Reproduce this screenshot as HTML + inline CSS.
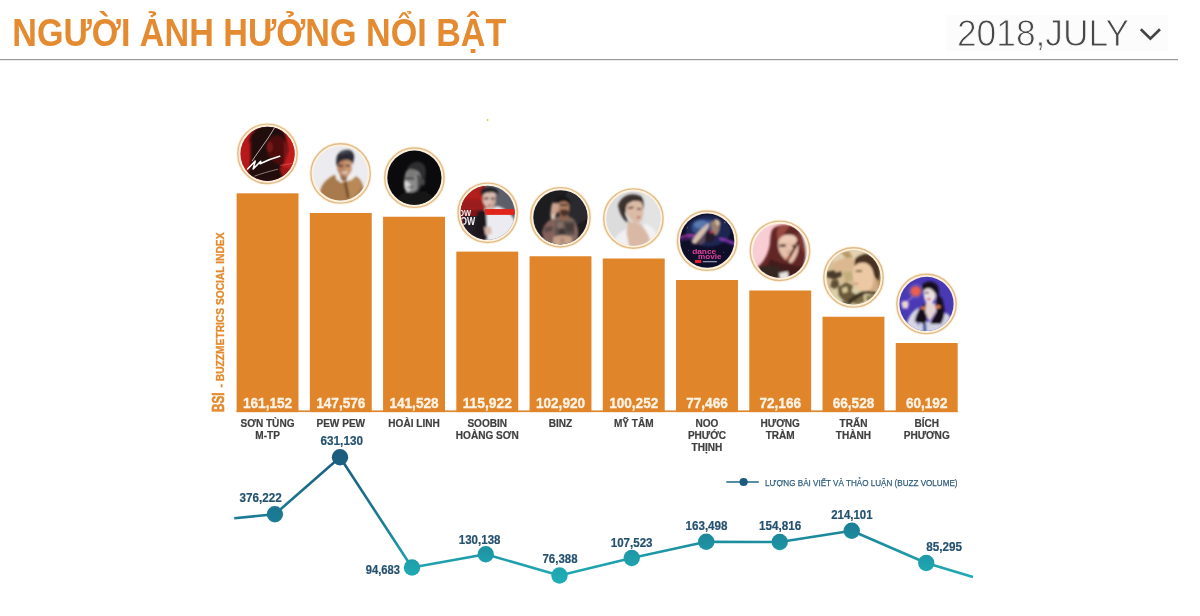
<!DOCTYPE html>
<html lang="vi">
<head>
<meta charset="utf-8">
<title>Người ảnh hưởng nổi bật</title>
<style>
html,body{margin:0;padding:0;background:#fff;}
body{width:1200px;height:616px;overflow:hidden;position:relative;font-family:"Liberation Sans",sans-serif;}
svg{position:absolute;left:0;top:0;display:block;}
text{font-family:"Liberation Sans",sans-serif;}
.b{font-weight:bold;}
</style>
</head>
<body>
<svg width="1200" height="616" viewBox="0 0 1200 616">
<defs>
<linearGradient id="lg" gradientUnits="userSpaceOnUse" x1="0" y1="450" x2="0" y2="585">
<stop offset="0" stop-color="#1b5a7d"/><stop offset="0.55" stop-color="#1c7e96"/><stop offset="0.85" stop-color="#1fa2ad"/><stop offset="1" stop-color="#20b0b7"/>
</linearGradient>
<filter id="bl" x="-10%" y="-10%" width="120%" height="120%"><feGaussianBlur stdDeviation="8"/></filter>
<filter id="bl2" x="-10%" y="-10%" width="120%" height="120%"><feGaussianBlur stdDeviation="7.8"/></filter>
<clipPath id="cp"><circle cx="0" cy="0" r="27.1"/></clipPath>
</defs>

<g id="header">
<rect x="946" y="15" width="222" height="36" fill="#fcfcfc"/>
<text class="b" x="12.3" y="46.3" font-size="37.9" fill="#e48a30" textLength="494" lengthAdjust="spacingAndGlyphs">NGƯỜI ẢNH HƯỞNG NỔI BẬT</text>
<text x="956.9" y="46.4" font-size="36.4" fill="#484848" stroke="#fcfcfc" stroke-width="0.9" textLength="172.3" lengthAdjust="spacingAndGlyphs">2018,JULY</text>
<path d="M1140.8 29.3 L1150.4 38.6 L1160 29.3" fill="none" stroke="#444" stroke-width="2.7"/>
<rect x="0" y="59" width="1178" height="1.2" fill="#9a9a9a"/>
<circle cx="487.6" cy="120" r="0.9" fill="#c6cf3a"/>
</g>
<g id="bars">
<rect x="236.6" y="410.4" width="721" height="1.7" fill="#e08529"/>
<rect x="236.60" y="193.3" width="61.9" height="218.80" fill="#e08529"/>
<rect x="309.84" y="213" width="61.9" height="199.10" fill="#e08529"/>
<rect x="383.08" y="216.75" width="61.9" height="195.35" fill="#e08529"/>
<rect x="456.32" y="251.6" width="61.9" height="160.50" fill="#e08529"/>
<rect x="529.56" y="256.25" width="61.9" height="155.85" fill="#e08529"/>
<rect x="602.80" y="258.5" width="61.9" height="153.60" fill="#e08529"/>
<rect x="676.04" y="280" width="61.9" height="132.10" fill="#e08529"/>
<rect x="749.28" y="290.5" width="61.9" height="121.60" fill="#e08529"/>
<rect x="822.52" y="316.75" width="61.9" height="95.35" fill="#e08529"/>
<rect x="895.76" y="343" width="61.9" height="69.10" fill="#e08529"/>
<text class="b" x="242.94" y="408.2" font-size="15.3" fill="#fdf3e6" stroke="#fdf3e6" stroke-width="0.35" textLength="49.21" lengthAdjust="spacingAndGlyphs">161,152</text>
<text class="b" x="316.18" y="408.2" font-size="15.3" fill="#fdf3e6" stroke="#fdf3e6" stroke-width="0.35" textLength="49.21" lengthAdjust="spacingAndGlyphs">147,576</text>
<text class="b" x="389.42" y="408.2" font-size="15.3" fill="#fdf3e6" stroke="#fdf3e6" stroke-width="0.35" textLength="49.21" lengthAdjust="spacingAndGlyphs">141,528</text>
<text class="b" x="462.66" y="408.2" font-size="15.3" fill="#fdf3e6" stroke="#fdf3e6" stroke-width="0.35" textLength="49.21" lengthAdjust="spacingAndGlyphs">115,922</text>
<text class="b" x="535.90" y="408.2" font-size="15.3" fill="#fdf3e6" stroke="#fdf3e6" stroke-width="0.35" textLength="49.21" lengthAdjust="spacingAndGlyphs">102,920</text>
<text class="b" x="609.14" y="408.2" font-size="15.3" fill="#fdf3e6" stroke="#fdf3e6" stroke-width="0.35" textLength="49.21" lengthAdjust="spacingAndGlyphs">100,252</text>
<text class="b" x="686.17" y="408.2" font-size="15.3" fill="#fdf3e6" stroke="#fdf3e6" stroke-width="0.35" textLength="41.64" lengthAdjust="spacingAndGlyphs">77,466</text>
<text class="b" x="759.41" y="408.2" font-size="15.3" fill="#fdf3e6" stroke="#fdf3e6" stroke-width="0.35" textLength="41.64" lengthAdjust="spacingAndGlyphs">72,166</text>
<text class="b" x="832.65" y="408.2" font-size="15.3" fill="#fdf3e6" stroke="#fdf3e6" stroke-width="0.35" textLength="41.64" lengthAdjust="spacingAndGlyphs">66,528</text>
<text class="b" x="905.89" y="408.2" font-size="15.3" fill="#fdf3e6" stroke="#fdf3e6" stroke-width="0.35" textLength="41.64" lengthAdjust="spacingAndGlyphs">60,192</text>
<text class="b" x="240.60" y="426.50" font-size="10.6" fill="#3f3f3f" stroke="#3f3f3f" stroke-width="0.2" textLength="53.90" lengthAdjust="spacingAndGlyphs">SƠN TÙNG</text>
<text class="b" x="255.25" y="438.50" font-size="10.6" fill="#3f3f3f" stroke="#3f3f3f" stroke-width="0.2" textLength="24.61" lengthAdjust="spacingAndGlyphs">M-TP</text>
<text class="b" x="316.45" y="426.50" font-size="10.6" fill="#3f3f3f" stroke="#3f3f3f" stroke-width="0.2" textLength="48.68" lengthAdjust="spacingAndGlyphs">PEW PEW</text>
<text class="b" x="388.30" y="426.50" font-size="10.6" fill="#3f3f3f" stroke="#3f3f3f" stroke-width="0.2" textLength="51.47" lengthAdjust="spacingAndGlyphs">HOÀI LINH</text>
<text class="b" x="467.41" y="426.50" font-size="10.6" fill="#3f3f3f" stroke="#3f3f3f" stroke-width="0.2" textLength="39.72" lengthAdjust="spacingAndGlyphs">SOOBIN</text>
<text class="b" x="455.84" y="438.50" font-size="10.6" fill="#3f3f3f" stroke="#3f3f3f" stroke-width="0.2" textLength="62.86" lengthAdjust="spacingAndGlyphs">HOÀNG SƠN</text>
<text class="b" x="548.76" y="426.50" font-size="10.6" fill="#3f3f3f" stroke="#3f3f3f" stroke-width="0.2" textLength="23.49" lengthAdjust="spacingAndGlyphs">BINZ</text>
<text class="b" x="613.89" y="426.50" font-size="10.6" fill="#3f3f3f" stroke="#3f3f3f" stroke-width="0.2" textLength="39.71" lengthAdjust="spacingAndGlyphs">MỸ TÂM</text>
<text class="b" x="695.52" y="426.50" font-size="10.6" fill="#3f3f3f" stroke="#3f3f3f" stroke-width="0.2" textLength="22.94" lengthAdjust="spacingAndGlyphs">NOO</text>
<text class="b" x="687.89" y="438.50" font-size="10.6" fill="#3f3f3f" stroke="#3f3f3f" stroke-width="0.2" textLength="38.20" lengthAdjust="spacingAndGlyphs">PHƯỚC</text>
<text class="b" x="691.61" y="450.50" font-size="10.6" fill="#3f3f3f" stroke="#3f3f3f" stroke-width="0.2" textLength="30.77" lengthAdjust="spacingAndGlyphs">THỊNH</text>
<text class="b" x="760.57" y="426.50" font-size="10.6" fill="#3f3f3f" stroke="#3f3f3f" stroke-width="0.2" textLength="39.32" lengthAdjust="spacingAndGlyphs">HƯƠNG</text>
<text class="b" x="765.69" y="438.50" font-size="10.6" fill="#3f3f3f" stroke="#3f3f3f" stroke-width="0.2" textLength="29.08" lengthAdjust="spacingAndGlyphs">TRÀM</text>
<text class="b" x="839.49" y="426.50" font-size="10.6" fill="#3f3f3f" stroke="#3f3f3f" stroke-width="0.2" textLength="27.97" lengthAdjust="spacingAndGlyphs">TRẤN</text>
<text class="b" x="835.85" y="438.50" font-size="10.6" fill="#3f3f3f" stroke="#3f3f3f" stroke-width="0.2" textLength="35.24" lengthAdjust="spacingAndGlyphs">THÀNH</text>
<text class="b" x="914.40" y="426.50" font-size="10.6" fill="#3f3f3f" stroke="#3f3f3f" stroke-width="0.2" textLength="24.61" lengthAdjust="spacingAndGlyphs">BÍCH</text>
<text class="b" x="903.69" y="438.50" font-size="10.6" fill="#3f3f3f" stroke="#3f3f3f" stroke-width="0.2" textLength="46.04" lengthAdjust="spacingAndGlyphs">PHƯƠNG</text>
</g>
<g transform="translate(224.2,412) rotate(-90)" stroke="#e58a2d" stroke-width="0.3">
<text class="b" x="0" y="0" font-size="15.9" fill="#e58a2d" stroke-width="0.6" textLength="19.5" lengthAdjust="spacingAndGlyphs">BSI</text>
<text class="b" x="24.5" y="0" font-size="10.8" fill="#e58a2d" textLength="155" lengthAdjust="spacingAndGlyphs">- BUZZMETRICS SOCIAL INDEX</text>
</g>
<g id="buzz-line">
<path d="M234.25 518.25 L274.9 514.2 L340 457.3 L412 567.5 L485.75 554.25 L559.5 575.5 L631.75 558 L706.25 541.75 L779.75 542 L851.75 530.75 L926.25 563 L973 577" fill="none" stroke="url(#lg)" stroke-width="2.6" stroke-linejoin="round"/>
<circle cx="274.9" cy="514.2" r="8.2" fill="url(#lg)"/>
<circle cx="340" cy="457.3" r="8.2" fill="url(#lg)"/>
<circle cx="412" cy="567.5" r="8.2" fill="url(#lg)"/>
<circle cx="485.75" cy="554.25" r="8.2" fill="url(#lg)"/>
<circle cx="559.5" cy="575.5" r="8.2" fill="url(#lg)"/>
<circle cx="631.75" cy="558" r="8.2" fill="url(#lg)"/>
<circle cx="706.25" cy="541.75" r="8.2" fill="url(#lg)"/>
<circle cx="779.75" cy="542" r="8.2" fill="url(#lg)"/>
<circle cx="851.75" cy="530.75" r="8.2" fill="url(#lg)"/>
<circle cx="926.25" cy="563" r="8.2" fill="url(#lg)"/>
<text class="b" x="239.5" y="502.1" font-size="13.3" fill="#24516f" stroke="#24516f" stroke-width="0.2" textLength="42.25" lengthAdjust="spacingAndGlyphs">376,222</text>
<text class="b" x="320.5" y="445" font-size="13.3" fill="#24516f" stroke="#24516f" stroke-width="0.2" textLength="42.50" lengthAdjust="spacingAndGlyphs">631,130</text>
<text class="b" x="365.75" y="574.25" font-size="13.3" fill="#24516f" stroke="#24516f" stroke-width="0.2" textLength="34.25" lengthAdjust="spacingAndGlyphs">94,683</text>
<text class="b" x="458.75" y="543.75" font-size="13.3" fill="#24516f" stroke="#24516f" stroke-width="0.2" textLength="41.75" lengthAdjust="spacingAndGlyphs">130,138</text>
<text class="b" x="542.5" y="563.25" font-size="13.3" fill="#24516f" stroke="#24516f" stroke-width="0.2" textLength="35.00" lengthAdjust="spacingAndGlyphs">76,388</text>
<text class="b" x="610.75" y="546.75" font-size="13.3" fill="#24516f" stroke="#24516f" stroke-width="0.2" textLength="41.75" lengthAdjust="spacingAndGlyphs">107,523</text>
<text class="b" x="685.5" y="530" font-size="13.3" fill="#24516f" stroke="#24516f" stroke-width="0.2" textLength="42.00" lengthAdjust="spacingAndGlyphs">163,498</text>
<text class="b" x="759" y="530" font-size="13.3" fill="#24516f" stroke="#24516f" stroke-width="0.2" textLength="42.25" lengthAdjust="spacingAndGlyphs">154,816</text>
<text class="b" x="831.25" y="519.25" font-size="13.3" fill="#24516f" stroke="#24516f" stroke-width="0.2" textLength="41.25" lengthAdjust="spacingAndGlyphs">214,101</text>
<text class="b" x="926.25" y="551.25" font-size="13.3" fill="#24516f" stroke="#24516f" stroke-width="0.2" textLength="35.75" lengthAdjust="spacingAndGlyphs">85,295</text>
</g>
<g id="legend">
<path d="M726.3 482 H758.8" stroke="#1f6684" stroke-width="1.6" fill="none"/>
<circle cx="743.6" cy="482" r="4.1" fill="#1b5b7e"/>
<text x="765" y="485.8" font-size="9.8" fill="#2f5d7d" stroke="#2f5d7d" stroke-width="0.25" textLength="192.5" lengthAdjust="spacingAndGlyphs">LƯỢNG BÀI VIẾT VÀ THẢO LUẬN (BUZZ VOLUME)</text>
</g>
<g id="avatars">
<g transform="translate(267.5,153.8)">
<circle r="30.8" fill="none" stroke="#fdf3e3" stroke-width="1.2"/><circle r="29.7" fill="#fdf1e0" stroke="#e2bb85" stroke-width="1.4"/>
<g clip-path="url(#cp)"><g transform="scale(0.103896) translate(-303.2,-306.1)"><rect x="0" y="0" width="620" height="620" fill="#b7191b"/>
<g filter="url(#bl)">
<rect x="430" y="60" width="200" height="420" fill="#c41d1c"/>
<path d="M128,215 C125,35 330,-15 412,42 C462,75 486,130 492,190 C495,230 510,260 505,285 C495,310 485,330 480,345 C478,370 465,395 455,405 C440,420 432,440 440,460 C470,500 520,540 540,600 L60,600 C110,520 150,440 140,300 C138,240 140,200 150,170 Z" fill="#22080a"/>
<path d="M330,150 C380,120 450,130 480,180 C495,230 505,270 500,290 C490,330 470,390 440,410 C400,420 350,380 320,330 C290,280 300,190 330,150Z" fill="#4e0f11"/>
<ellipse cx="325" cy="240" rx="28" ry="50" fill="#7c1818"/>
<path d="M455,170 C485,200 505,260 500,290 C490,330 475,370 455,400 C465,330 470,250 455,170Z" fill="#7a1616"/>
<path d="M420,440 C460,430 500,440 540,470 L560,600 L470,600Z" fill="#9c1718"/>
</g>
<g fill="none" stroke="#fff" stroke-linecap="round" stroke-linejoin="round">
<path d="M370,55 C340,110 300,170 260,225 C230,270 190,320 158,372" stroke-width="7" stroke="#f0eaea"/>
<path d="M112,452 L185,375 L165,452 L238,378 L232,402 C290,372 350,350 420,330" stroke-width="15"/>
<path d="M180,520 C240,498 320,475 400,455" stroke-width="6" stroke="#c8bcbc"/>
<path d="M425,418 L540,400" stroke-width="4" stroke="#e59090"/>
</g></g></g>
</g>
<g transform="translate(340.58,173.43)">
<circle r="30.8" fill="none" stroke="#fdf3e3" stroke-width="1.2"/><circle r="29.7" fill="#fdf1e0" stroke="#e2bb85" stroke-width="1.4"/>
<g clip-path="url(#cp)"><g transform="scale(0.103896) translate(-304,-302.5)"><rect x="0" y="0" width="620" height="620" fill="#ebebf0"/>
<g filter="url(#bl)">
<path d="M100,500 C120,400 160,360 250,312 L300,392 L400,372 L450,330 C500,360 520,400 528,470 L540,620 L90,620 Z" fill="#a97a4c"/>
<path d="M350,392 L440,345 C480,360 505,400 500,430 L430,540 L385,560 Z" fill="#b98a58"/>
<path d="M335,385 L362,380 L392,540 L368,545Z" fill="#6e4a2c"/>
<path d="M252,302 L290,314 L308,380 L264,360Z" fill="#f2eee8"/>
<path d="M372,336 L420,292 L440,332 L402,370Z" fill="#f2eee8"/>
<path d="M292,300 L376,318 L354,380 L310,368Z" fill="#93664a"/>
<path d="M266,185 C300,165 380,160 406,180 L410,268 C400,302 380,326 348,340 C312,336 288,306 274,270 Z" fill="#b98462"/>
<path d="M340,190 L406,182 L409,266 C398,298 378,322 350,336Z" fill="#cb9874"/>
<path d="M286,222 L326,218 L327,236 L288,240Z" fill="#4a3028"/>
<path d="M352,218 L390,220 L390,238 L353,236Z" fill="#4a3028"/>
<path d="M312,286 L372,284 L366,302 L320,304Z" fill="#e8d8d0"/>
<path d="M266,150 C273,103 330,68 387,76 C428,86 441,130 432,166 L420,218 C412,192 397,172 370,170 C335,168 305,178 289,202 L272,244 C260,212 260,176 266,150Z" fill="#2a2c36"/>
<path d="M300,95 C340,75 390,82 415,110 C380,100 340,105 300,125Z" fill="#454852"/>
</g></g></g>
</g>
<g transform="translate(414.4,177.7)">
<circle r="30.8" fill="none" stroke="#fdf3e3" stroke-width="1.2"/><circle r="29.7" fill="#fdf1e0" stroke="#e2bb85" stroke-width="1.4"/>
<g clip-path="url(#cp)"><g transform="scale(0.103896) translate(-302,-305)"><rect x="0" y="0" width="620" height="620" fill="#0b0b0d"/>
<g filter="url(#bl)">
<path d="M120,520 C170,440 260,430 330,440 C400,420 450,450 500,520 L520,620 L100,620Z" fill="#141416"/>
<path d="M235,215 C260,160 320,140 370,160 C410,180 420,240 405,300 C400,340 395,370 380,380 L330,300 L260,250Z" fill="#2e2e2f"/>
<path d="M230,235 C260,215 320,225 350,260 C372,300 372,360 350,410 C325,445 270,455 230,440 C205,420 200,380 205,330 C208,290 215,255 230,235Z" fill="#8b8b8b"/>
<path d="M205,340 C215,330 250,340 262,370 C272,410 262,440 232,440 C208,425 202,385 205,340Z" fill="#d4d4d4"/>
<path d="M232,238 C258,222 300,228 322,250 L300,300 L225,290Z" fill="#7a7a7a"/>
<path d="M320,270 C350,270 372,310 368,360 C362,400 345,425 325,430 C335,380 335,320 320,270Z" fill="#4e4e4e"/>
<ellipse cx="385" cy="350" rx="16" ry="32" fill="#4a4a4a"/>
<path d="M215,300 L300,305 L300,325 L215,320Z" fill="#3c3c3c"/>
<path d="M232,395 L290,385 L290,400 L235,408Z" fill="#555"/>
</g></g></g>
</g>
<g transform="translate(487.7,212.8)">
<circle r="30.8" fill="none" stroke="#fdf3e3" stroke-width="1.2"/><circle r="29.7" fill="#fdf1e0" stroke="#e2bb85" stroke-width="1.4"/>
<g clip-path="url(#cp)"><g transform="scale(0.103896) translate(-305,-306)"><rect x="0" y="0" width="620" height="620" fill="#5c5e6a"/>
<rect x="0" y="0" width="282" height="272" fill="#b3201b"/>
<rect x="0" y="272" width="282" height="66" fill="#7c1519"/>
<rect x="0" y="338" width="282" height="300" fill="#251c26"/>
<rect x="0" y="338" width="70" height="130" fill="#8a1a1c"/>
<g filter="url(#bl)">
<rect x="0" y="180" width="282" height="100" fill="#9a1c1a"/>
<path d="M275,262 L330,268 L400,240 C470,262 530,310 565,380 L580,620 L282,620 Z" fill="#ebebf1"/>
<path d="M215,285 L290,282 L302,575 L175,505Z" fill="#1b171e"/>
<path d="M298,225 L362,225 L368,285 L300,285Z" fill="#d2b0a4"/>
<path d="M250,120 C260,95 370,90 385,120 L382,200 C372,240 350,262 325,265 C295,262 268,235 258,195Z" fill="#dcbcb0"/>
<path d="M238,95 C250,50 390,45 402,95 L398,150 C390,125 370,108 345,108 L290,112 C270,118 255,135 250,160Z" fill="#242427"/>
<path d="M270,445 L335,440 L345,505 L285,525Z" fill="#d8b8aa"/>
<path d="M268,160 L312,156 L313,176 L270,180Z" fill="#4a3a3a"/>
<path d="M335,158 L378,160 L377,180 L336,178Z" fill="#4a3a3a"/>
<ellipse cx="322" cy="236" rx="20" ry="9" fill="#b0605a"/>
<path d="M345,180 L382,170 L382,215 C375,240 360,258 345,262Z" fill="#c8a496"/>
</g>
<g>
<rect x="278" y="270" width="300" height="56" fill="#e0241b"/>
<text x="22" y="333" font-size="82" font-weight="bold" fill="#f4f0f2" textLength="124" lengthAdjust="spacingAndGlyphs">OW</text>
<text x="40" y="420" font-size="97" font-weight="bold" fill="#f4f0f2" textLength="144" lengthAdjust="spacingAndGlyphs">OW</text>
</g></g></g>
</g>
<g transform="translate(560.4,217.3)">
<circle r="30.8" fill="none" stroke="#fdf3e3" stroke-width="1.2"/><circle r="29.7" fill="#fdf1e0" stroke="#e2bb85" stroke-width="1.4"/>
<g clip-path="url(#cp)"><g transform="scale(0.103896) translate(-302.5,-301.5)"><rect x="0" y="0" width="620" height="620" fill="#1d1d20"/>
<g filter="url(#bl)">
<ellipse cx="460" cy="190" rx="130" ry="170" fill="#2b2b2d"/>
<path d="M128,445 C148,360 190,322 290,292 L390,300 C440,320 464,360 474,450 L455,620 L160,620 Z" fill="#7f6a61"/>
<path d="M128,445 C143,372 180,335 228,318 L245,420 L218,525 L150,505Z" fill="#86615a"/>
<path d="M150,400 L225,385 L230,430 L150,450Z" fill="#5a4a48"/>
<path d="M250,332 L440,342 L452,470 L250,472Z" fill="#5b4f4c"/>
<path d="M262,350 L330,345 L335,400 L270,410Z" fill="#857068"/>
<path d="M350,360 L430,362 L435,430 L360,440Z" fill="#463c3b"/>
<path d="M285,420 L345,415 L350,465 L290,468Z" fill="#3e3534"/>
<path d="M440,360 C465,380 475,430 470,500 L440,520Z" fill="#8a6a60"/>
<path d="M235,492 C290,470 360,470 412,492 L422,620 L228,620Z" fill="#c7a08a"/>
<path d="M300,500 L340,498 L342,560 L302,560Z" fill="#b08a76"/>
<path d="M292,282 L380,282 L392,332 L290,332Z" fill="#8c6450"/>
<path d="M278,150 C290,122 375,122 387,150 L387,235 C377,274 356,290 333,290 C305,290 285,266 278,235Z" fill="#ab7b62"/>
<path d="M296,235 C320,222 352,222 382,235 C380,270 356,292 335,292 C314,290 298,270 296,235Z" fill="#4a3028"/>
<path d="M300,175 L372,175 L372,192 L300,192Z" fill="#3a2a26"/>
<path d="M266,152 C268,92 388,82 398,152 L392,188 C382,160 362,146 333,146 C304,146 284,160 274,188Z" fill="#131313"/>
<path d="M228,158 L292,170 L284,232 L254,294 L205,284 L214,200Z" fill="#caa28e"/>
<path d="M215,270 L255,280 L245,320 L208,312Z" fill="#e0c4b4"/>
</g></g></g>
</g>
<g transform="translate(633.4,218.6)">
<circle r="30.8" fill="none" stroke="#fdf3e3" stroke-width="1.2"/><circle r="29.7" fill="#fdf1e0" stroke="#e2bb85" stroke-width="1.4"/>
<g clip-path="url(#cp)"><g transform="scale(0.103896) translate(-302.5,-304)"><rect x="0" y="0" width="620" height="620" fill="#dcdcdc"/>
<g filter="url(#bl)">
<rect x="400" y="0" width="220" height="620" fill="#e3e3e3"/>
<path d="M110,520 C150,440 220,410 262,398 L300,560 L150,590Z" fill="#f1efef"/>
<path d="M395,352 C450,360 510,400 535,470 L520,560 L440,590Z" fill="#f3f1f1"/>
<path d="M252,330 L352,352 C400,380 440,440 462,505 L420,620 L270,620 L238,445Z" fill="#d9b9a5"/>
<path d="M155,175 C180,85 290,35 385,95 C410,130 408,180 400,215 L372,152 L300,132 L242,172 L222,262 L255,345 C215,330 170,270 155,175Z" fill="#3b302d"/>
<path d="M240,172 C262,140 340,120 382,150 C402,190 405,240 388,298 C372,330 352,345 338,347 C305,342 268,310 240,262 C228,232 228,200 240,172Z" fill="#dcbba6"/>
<path d="M250,195 L300,185 L305,205 L255,215Z" fill="#6a4a40"/>
<path d="M335,200 L380,205 L380,220 L338,218Z" fill="#6a4a40"/>
<ellipse cx="352" cy="292" rx="20" ry="9" fill="#a8584e"/>
</g></g></g>
</g>
<g transform="translate(707.2,240.7)">
<circle r="30.8" fill="none" stroke="#fdf3e3" stroke-width="1.2"/><circle r="29.7" fill="#fdf1e0" stroke="#e2bb85" stroke-width="1.4"/>
<g clip-path="url(#cp)"><g transform="scale(0.103896) translate(-310,-305)"><rect x="0" y="0" width="620" height="620" fill="#0f0e29"/>
<g filter="url(#bl)">
<ellipse cx="320" cy="210" rx="215" ry="150" fill="#1f2652"/>
<ellipse cx="290" cy="180" rx="130" ry="80" fill="#36508a"/>
<ellipse cx="250" cy="150" rx="70" ry="40" fill="#5a78b0"/>
<path d="M40,275 C100,255 160,252 215,260" fill="none" stroke="#c040c4" stroke-width="15"/>
<path d="M55,300 C110,285 150,283 190,288" fill="none" stroke="#7a2a9a" stroke-width="10"/>
<path d="M425,283 C490,293 540,310 590,338" fill="none" stroke="#a040d0" stroke-width="15"/>
<path d="M440,305 C500,318 540,332 580,355" fill="none" stroke="#5a2a90" stroke-width="10"/>
<path d="M160,325 C185,262 235,200 325,135 C338,150 318,195 285,232 C255,275 225,305 195,338Z" fill="#d6bfae"/>
<path d="M200,330 C230,300 270,260 300,215 L330,230 C320,280 290,320 250,345Z" fill="#5a4a58"/>
<path d="M345,125 C385,100 428,122 430,168 C428,210 412,240 392,255 C365,240 345,195 345,125Z" fill="#9c8070"/>
<path d="M380,105 C410,100 432,120 432,150 L405,160Z" fill="#d8c4a0"/>
<path d="M305,205 C340,195 380,222 388,268 C378,315 335,335 295,318 C285,280 290,232 305,205Z" fill="#261a2e"/>
<ellipse cx="350" cy="218" rx="17" ry="13" fill="#c83a5c"/>
</g>
<g>
<text x="165" y="437" font-size="64" font-weight="bold" fill="#e2409c" textLength="232" lengthAdjust="spacingAndGlyphs">dance</text>
<text x="222" y="478" font-size="64" font-weight="bold" fill="#e2409c" textLength="225" lengthAdjust="spacingAndGlyphs">movie</text>
<rect x="193" y="490" width="60" height="30" fill="#e02030"/>
<rect x="268" y="500" width="135" height="13" fill="#8e8cb4"/>
<circle cx="480" cy="130" r="5" fill="#aab"/><circle cx="120" cy="180" r="4" fill="#aab"/><circle cx="470" cy="420" r="4" fill="#aab"/><circle cx="130" cy="400" r="4" fill="#99a"/>
</g></g></g>
</g>
<g transform="translate(779.95,250.8)">
<circle r="30.8" fill="none" stroke="#fdf3e3" stroke-width="1.2"/><circle r="29.7" fill="#fdf1e0" stroke="#e2bb85" stroke-width="1.4"/>
<g clip-path="url(#cp)"><g transform="scale(0.103896) translate(-307.5,-306)"><rect x="0" y="0" width="620" height="620" fill="#f8cdd3"/>
<g filter="url(#bl)">
<path d="M400,0 L620,0 L620,620 L520,620 C570,400 530,150 400,0Z" fill="#f6e2e3"/>
<path d="M230,110 C260,55 400,30 485,95 C548,185 578,330 540,450 C520,525 470,585 380,620 L250,620 L140,520 L95,460 C170,400 205,300 212,230 C215,170 220,135 230,110Z" fill="#642826"/>
<path d="M215,380 C280,420 380,440 530,460 C510,540 460,590 380,620 L250,620 L150,530Z" fill="#451c1c"/>
<path d="M290,85 C330,55 380,50 410,62 C370,100 330,160 300,230 C280,200 270,130 290,85Z" fill="#9a4a40"/>
<path d="M470,120 C520,180 545,260 545,340 C520,300 500,220 470,120Z" fill="#8c3e36"/>
<path d="M300,190 C330,150 420,135 460,170 C490,220 495,290 470,350 C450,395 430,420 415,425 C380,415 330,370 305,320 C285,270 285,220 300,190Z" fill="#e6c0aa"/>
<path d="M330,165 C370,145 430,150 458,172 L470,215 L310,225Z" fill="#eccab6"/>
<path d="M482,215 C450,280 410,340 368,425" fill="none" stroke="#5c2921" stroke-width="24"/>
<path d="M302,248 L362,242 L364,264 L306,270Z" fill="#3e2422"/>
<path d="M425,248 L472,254 L470,274 L425,268Z" fill="#3e2422"/>
<path d="M380,300 L400,300 L405,340 L378,340Z" fill="#d4a894"/>
<ellipse cx="385" cy="374" rx="24" ry="11" fill="#c0685e"/>
<path d="M95,470 C160,440 250,440 310,470 L350,620 L180,620Z" fill="#352624"/>
<path d="M300,520 L385,505 L395,620 L310,620Z" fill="#e9e5e1"/>
</g></g></g>
</g>
<g transform="translate(853.5,277.4)">
<circle r="30.8" fill="none" stroke="#fdf3e3" stroke-width="1.2"/><circle r="29.7" fill="#fdf1e0" stroke="#e2bb85" stroke-width="1.4"/>
<g clip-path="url(#cp)"><g transform="scale(0.103896) translate(-303.5,-302.5)"><rect x="0" y="0" width="620" height="620" fill="#d6be96"/>
<g filter="url(#bl)">
<path d="M100,40 L420,40 L330,130 L200,120 L110,170Z" fill="#e2d3b2"/>
<path d="M180,60 L260,50 L300,110 L230,115Z" fill="#b89a66"/>
<path d="M520,300 L620,300 L620,480 L540,470Z" fill="#b89468"/>
<path d="M90,420 C160,350 260,330 330,400 L400,440 L540,440 L520,620 L100,620Z" fill="#dcd0a8"/>
<path d="M150,400 L230,350 L300,380 L285,440 L330,470 L300,530 L215,540 L160,480Z" fill="#6a5a3a"/>
<path d="M190,410 L240,390 L250,440 L205,455Z" fill="#d8c898"/>
<path d="M95,330 L150,320 L170,380 L120,420 L80,390Z" fill="#5e5034"/>
<path d="M330,470 L400,470 L410,540 L350,560 L300,560Z" fill="#7a6a44"/>
<path d="M420,480 L500,470 L505,540 L440,560Z" fill="#8a7a50"/>
<path d="M170,540 L260,545 L250,600 L190,590Z" fill="#54462e"/>
<path d="M200,250 L290,245 L300,330 L230,350Z" fill="#c4ad7c"/>
<path d="M240,530 C300,480 360,440 410,428 L525,440 L520,470 L420,460 C370,480 320,520 270,570Z" fill="#3e3323"/>
<path d="M40,250 L182,220 L192,290 L120,322 L48,300Z" fill="#4a3a2a"/>
<path d="M108,172 C150,120 260,105 312,130 L322,232 C260,228 190,235 130,255Z" fill="#dcb890"/>
<path d="M455,300 C500,290 545,330 540,420 L470,440 L440,400Z" fill="#d2aa82"/>
<path d="M312,182 C350,150 430,150 470,200 C500,260 505,340 480,400 C450,440 400,445 365,425 C320,395 292,330 298,250 C300,220 305,200 312,182Z" fill="#ecc9a4"/>
<path d="M318,125 C360,70 460,60 510,115 C560,180 570,270 550,335 C520,320 505,300 498,270 C490,220 470,190 440,170 C400,150 350,160 312,192Z" fill="#4a3021"/>
<path d="M325,235 L385,232 L385,248 L325,250Z" fill="#5a4030"/>
<ellipse cx="330" cy="362" rx="20" ry="9" fill="#c88a72"/>
</g></g></g>
</g>
<g transform="translate(926.5,303.95)">
<circle r="30.8" fill="none" stroke="#fdf3e3" stroke-width="1.2"/><circle r="29.7" fill="#fdf1e0" stroke="#e2bb85" stroke-width="1.4"/>
<g clip-path="url(#cp)"><g transform="scale(0.103896) translate(-303.5,-307.5)"><rect x="0" y="0" width="620" height="620" fill="#4a39b4"/>
<g filter="url(#bl)">
<path d="M110,520 C125,440 160,380 232,340 L205,480 L265,575 L150,600Z" fill="#d6d6e6"/>
<path d="M440,505 C450,440 470,405 490,395 C520,405 540,440 548,500 L540,620 L430,620Z" fill="#d2d2e4"/>
<path d="M230,480 L440,480 L450,620 L220,620Z" fill="#d0d2e4"/>
<path d="M268,500 L300,500 L305,580 L272,580Z" fill="#3050a0"/>
<path d="M190,480 C200,400 240,340 292,300 L315,400 L292,500Z" fill="#14101a"/>
<path d="M392,310 L462,300 C482,350 485,430 442,500 L340,500 L400,382Z" fill="#14101a"/>
<path d="M300,288 L382,300 L400,372 L332,482 L290,382Z" fill="#e6d4d4"/>
<path d="M400,230 C440,225 470,260 465,330 L400,330Z" fill="#14101a"/>
<path d="M275,160 C290,135 350,130 385,190 C398,230 395,262 350,302 L300,292 C280,262 272,220 275,160Z" fill="#ece0e0"/>
<path d="M258,135 C280,80 380,70 415,140 C430,190 425,240 420,265 C405,225 385,195 350,165 C320,148 285,160 265,195Z" fill="#14101a"/>
<ellipse cx="325" cy="262" rx="18" ry="9" fill="#c0304a"/>
<path d="M285,195 L325,190 L325,204 L287,208Z" fill="#3a2a3a"/>
<circle cx="200" cy="185" r="50" fill="#ea5e50"/>
<circle cx="200" cy="185" r="64" fill="none" stroke="#e8c8d8" stroke-width="8" stroke-dasharray="10 18"/>
<path d="M170,240 L108,292" stroke="#d8b0d8" stroke-width="9"/>
<path d="M62,300 C75,270 120,270 132,300 L125,352 L75,352Z" fill="#e8d4d8"/>
<path d="M245,345 C260,325 290,328 302,345 C290,368 258,368 245,345Z" fill="#e8804a"/>
<path d="M385,335 C400,315 430,318 442,335 C430,358 398,358 385,335Z" fill="#e8804a"/>
</g></g></g>
</g>
</g>
</svg>
</body>
</html>
